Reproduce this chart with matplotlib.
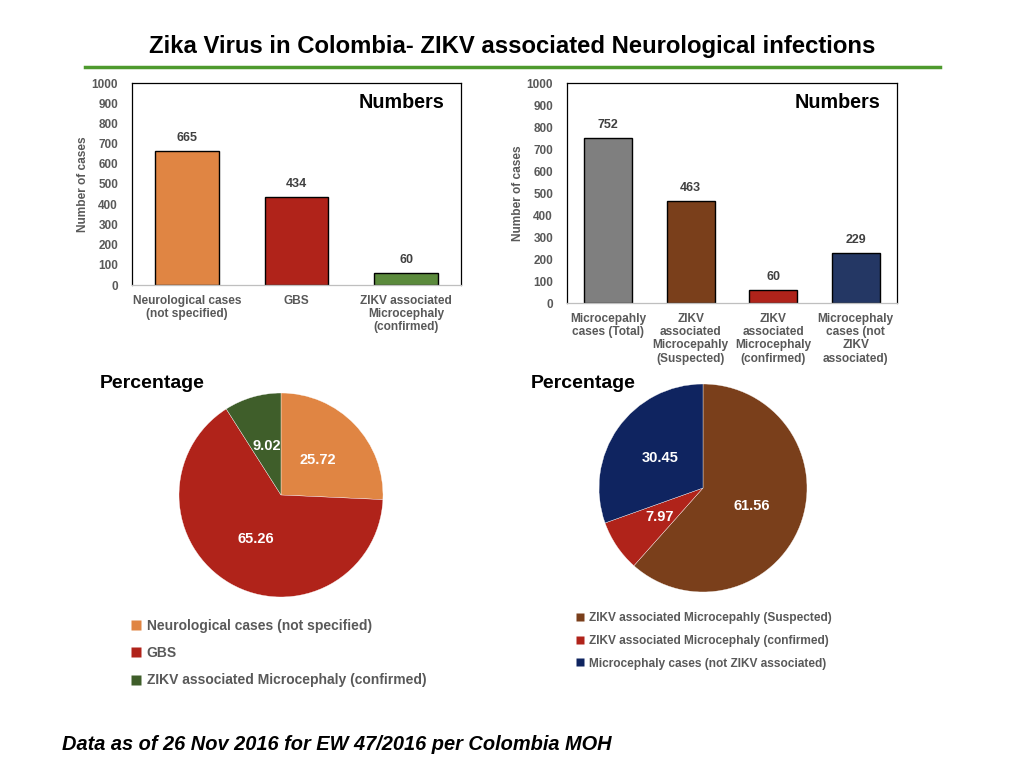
import matplotlib
matplotlib.use("Agg")
import matplotlib.pyplot as plt
from matplotlib.lines import Line2D

plt.rcParams["font.family"] = ["Liberation Sans", "DejaVu Sans"]

GRAY_TXT = "#595959"

# ---- data ----
neuro_cats = ["Neurological cases\n(not specified)", "GBS",
              "ZIKV associated\nMicrocephaly\n(confirmed)"]
neuro_vals = [665, 434, 60]
neuro_bar_colors = ["#E08543", "#B0231A", "#5B8A3C"]

micro_cats = ["Microcepahly\ncases (Total)", "ZIKV\nassociated\nMicrocepahly\n(Suspected)",
              "ZIKV\nassociated\nMicrocephaly\n(confirmed)", "Microcephaly\ncases (not\nZIKV\nassociated)"]
micro_vals = [752, 463, 60, 229]
micro_bar_colors = ["#7F7F7F", "#7A3F1B", "#B0231A", "#243764"]

neuro_pct_labels = ["Neurological cases (not specified)", "GBS",
                    "ZIKV associated Microcephaly (confirmed)"]
neuro_pct = [25.72, 65.26, 9.02]
neuro_pie_colors = ["#E08543", "#B0231A", "#3F5E2A"]

micro_pct_labels = ["ZIKV associated Microcepahly (Suspected)",
                    "ZIKV associated Microcephaly (confirmed)",
                    "Microcephaly cases (not ZIKV associated)"]
micro_pct = [61.56, 7.97, 30.45]
micro_pie_colors = ["#7A3F1B", "#B0231A", "#0F2460"]

yticks = list(range(0, 1001, 100))

W, H = 1024, 768
fig = plt.figure(figsize=(10.24, 7.68), dpi=100)
fig.patch.set_facecolor("white")


def fpos(x0, y0, x1, y1):
    # pixel box (top-left origin) -> figure fraction
    return [x0 / W, 1 - y1 / H, (x1 - x0) / W, (y1 - y0) / H]


def bar_panel(box, cats, vals, colors):
    ax = fig.add_axes(fpos(*box))
    x = range(len(cats))
    bars = ax.bar(x, vals, width=0.58, color=colors, edgecolor="black", linewidth=1.0)
    ax.set_xlim(-0.5, len(cats) - 0.5)
    ax.set_ylim(0, 1000)
    ax.set_yticks(yticks)
    ax.set_xticks(list(x))
    ax.set_xticklabels(cats, fontsize=8.6, fontweight="bold", color=GRAY_TXT,
                       linespacing=1.15)
    for lab in ax.get_yticklabels():
        lab.set_fontsize(8.5)
        lab.set_fontweight("bold")
        lab.set_color(GRAY_TXT)
    ax.tick_params(length=0, axis="both")
    ax.tick_params(axis="x", pad=7)
    ax.tick_params(axis="y", pad=10)
    for s in ["top", "right", "left"]:
        ax.spines[s].set_color("black")
        ax.spines[s].set_linewidth(0.9)
    ax.spines["bottom"].set_color("#BFBFBF")
    ax.spines["bottom"].set_linewidth(0.9)
    for b, v in zip(bars, vals):
        ax.annotate(str(v), (b.get_x() + b.get_width() / 2, v), xytext=(0, 5),
                    textcoords="offset points", ha="center", va="bottom",
                    fontsize=9, fontweight="bold", color="#404040")
    ax.set_ylabel("Number of cases", fontsize=8.6, fontweight="bold", color=GRAY_TXT)
    wpx = box[2] - box[0]
    ax.yaxis.set_label_coords(-43 / wpx, 0.5)
    top_px = box[3] - box[1]
    ax.text(0.95, 1 - 19 / top_px, "Numbers", transform=ax.transAxes, ha="right",
            va="center", fontsize=14.2, fontweight="bold", color="black")
    return ax


bar_panel((132, 83, 461, 285), neuro_cats, neuro_vals, neuro_bar_colors)
bar_panel((567, 83, 897, 303), micro_cats, micro_vals, micro_bar_colors)


def pie_panel(cx, cy, r, vals, colors, labels, leg_xy, leg_fs, leg_space):
    ax = fig.add_axes(fpos(cx - r, cy - r, cx + r, cy + r))
    wedges, texts = ax.pie(vals, colors=colors, startangle=90, counterclock=False,
                           labels=[f"{v:.2f}" for v in vals], labeldistance=0.5,
                           wedgeprops=dict(edgecolor="white", linewidth=0.25),
                           textprops=dict(color="white", fontweight="bold", fontsize=10.5,
                                          ha="center", va="center"))
    ax.set_xlim(-1, 1)
    ax.set_ylim(-1, 1)
    handles = [Line2D([], [], marker="s", linestyle="none", markersize=leg_fs * 0.72,
                      markerfacecolor=c, markeredgecolor="none") for c in colors]
    leg = fig.legend(handles, labels, loc="upper left",
                     bbox_to_anchor=(leg_xy[0] / W, 1 - leg_xy[1] / H),
                     frameon=False, fontsize=leg_fs, handlelength=0.6,
                     handletextpad=0.45, borderpad=0, borderaxespad=0,
                     labelspacing=leg_space)
    for t in leg.get_texts():
        t.set_color(GRAY_TXT)
        t.set_fontweight("bold")
    return ax


pie_panel(281, 495, 102, neuro_pct, neuro_pie_colors, neuro_pct_labels,
          (132, 619), 10, 0.95)
pie_panel(703, 488, 104, micro_pct, micro_pie_colors, micro_pct_labels,
          (576, 612), 8.6, 0.9)

# ---- titles and decoration ----
fig.text(512 / W, 1 - 46 / H, "Zika Virus in Colombia- ZIKV associated Neurological infections",
         ha="center", va="center", fontsize=17.2, fontweight="bold", color="black")
fig.add_artist(Line2D([85 / W, 940 / W], [1 - 67 / H, 1 - 67 / H], color="#4E9A2E",
                      linewidth=2.5, transform=fig.transFigure))
fig.text(100 / W, 1 - 383 / H, "Percentage", ha="left", va="center",
         fontsize=14, fontweight="bold", color="black")
fig.text(531 / W, 1 - 383 / H, "Percentage", ha="left", va="center",
         fontsize=14, fontweight="bold", color="black")
fig.text(62 / W, 1 - 745 / H, "Data as of 26 Nov 2016 for EW 47/2016 per Colombia MOH",
         ha="left", va="center", fontsize=14.4, fontweight="bold", style="italic",
         color="black")

fig.savefig("out.png", dpi=100, facecolor="white")
